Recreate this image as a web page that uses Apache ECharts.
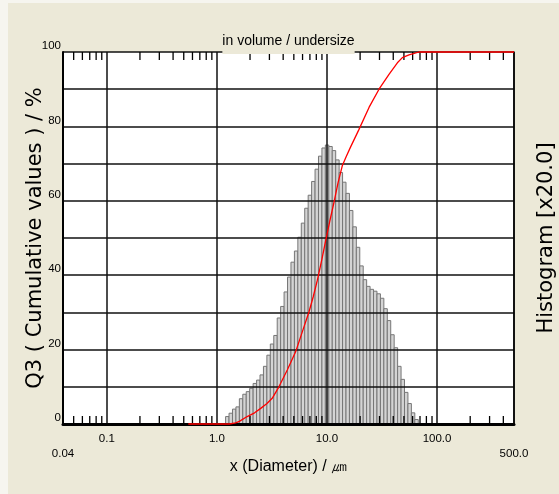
<!DOCTYPE html>
<html><head><meta charset="utf-8">
<script src="https://cdn.jsdelivr.net/npm/echarts@6/dist/echarts.min.js"></script>
<style>
html,body{margin:0;padding:0;background:#ECE9D8;}
#c{width:559px;height:494px;background:#ECE9D8;box-shadow:inset 8px 3px 0 #f6f5ef;}
</style>
</head><body><div id="c"></div>
<script>
// Histogram bin edges (µm) and bar heights (shown on the 0-100 scale, histogram x20.0)
const binEdges = [0.3058, 0.3286, 0.3531, 0.3795, 0.4078, 0.4382, 0.4709, 0.5060, 0.5438, 0.5844,
  0.6280, 0.6748, 0.7252, 0.7793, 0.8374, 0.8999, 0.9670, 1.0392, 1.1167,
  1.200, 1.2895, 1.3858, 1.4891, 1.6002, 1.7196, 1.8479, 1.9858, 2.1340, 2.2932,
  2.4642, 2.6480, 2.8457, 3.0580, 3.2861, 3.5312, 3.7948, 4.0778, 4.3820, 4.7090,
  5.0604, 5.4379, 5.8436, 6.2796, 6.7481, 7.2516, 7.7926, 8.3740, 8.9987, 9.6701,
  10.392, 11.167, 12.000, 12.895, 13.858, 14.891, 16.002, 17.196, 18.479, 19.858,
  21.340, 22.932, 24.642, 26.480, 28.457, 30.580, 32.861, 35.312, 37.948, 40.778,
  43.820, 47.090, 50.604, 54.379, 58.436, 62.796, 67.481];
const histValues = [0, 0, 0, 0, 0, 0, 0, 0, 0, 0, 0, 0, 0, 0, 0, 0, 0, 0, 0,
  2.0, 2.9, 4.0, 4.6, 6.8, 8.0, 8.7, 9.6, 10.9, 11.8,
  13.2, 15.5, 18.5, 21.5, 23.8, 28.5, 31.6, 35.5, 39.5, 43.5,
  46.5, 50.2, 54.0, 58.0, 61.5, 65.2, 68.5, 72.0, 74.2, 75.0,
  74.6, 73.5, 71.0, 67.6, 65.0, 62.0, 57.4, 53.0, 47.5, 42.5,
  38.8, 37.0, 36.2, 35.7, 35.0, 33.8, 31.0, 27.8, 24.0, 20.5,
  15.5, 12.0, 8.5, 5.5, 3.0, 1.2];

// Cumulative Q3 curve (undersize, %)
const cumX = [0.55, 1.0, 1.3, 1.48, 1.6, 1.885, 2.2, 2.5, 2.85, 3.18, 3.66, 4.36, 5.19, 6.18, 6.86,
  7.5, 8.17, 9.0, 9.73, 10.6, 11.58, 12.6, 13.77, 15.0, 16.4, 19.4, 24.1, 29.7, 36.6, 43.6,
  48.4, 55.6, 62.0, 68.6, 500];
const cumY = [0, 0, 0, 0.3, 0.7, 2.0, 3.0, 4.2, 5.5, 6.9, 10.0, 14.5, 19.4, 26.1, 30.1,
  34.2, 38.6, 44.3, 49.3, 54.5, 59.6, 64.8, 69.4, 72.0, 74.5, 79.0, 85.1, 90.0, 94.0, 97.1,
  98.5, 99.2, 99.6, 100, 100];

// Axis tick labels
const xLabelVals = [0.04, 0.1, 1, 10, 100, 500];
const xLabelTexts = ['0.04', '0.1', '1.0', '10.0', '100.0', '500.0'];
const xLabelLow = [true, false, false, false, false, true];
const yLabelVals = [0, 20, 40, 60, 80, 100];
const minorTicks = [0.05, 0.06, 0.07, 0.08, 0.09,
  0.2, 0.3, 0.4, 0.5, 0.6, 0.7, 0.8, 0.9,
  2, 3, 4, 5, 6, 7, 8, 9,
  20, 30, 40, 50, 60, 70, 80, 90,
  200, 300, 400];

const NARROW = "'Liberation Sans Narrow','Arial Narrow','Liberation Sans',Arial,sans-serif";
const WIDE = "'DejaVu Sans',Verdana,sans-serif";

const histData = histValues.map((v, i) => [binEdges[i], binEdges[i + 1], v]);
const cumData = cumX.map((x, i) => [x, cumY[i]]);
const minorData = minorTicks.map(v => [v, 0]);

function renderHist(params, api) {
  const p1 = api.coord([api.value(0), api.value(2)]);
  const p2 = api.coord([api.value(1), 0]);
  return {
    type: 'rect',
    shape: { x: p1[0], y: p1[1], width: p2[0] - p1[0], height: p2[1] - p1[1] },
    style: { fill: '#d4d4d4', stroke: '#767676', lineWidth: 1 }
  };
}
function renderMinor(params, api) {
  const b = api.coord([api.value(0), 0]);
  const t = api.coord([api.value(0), 100]);
  return {
    type: 'group',
    children: [
      { type: 'line', shape: { x1: b[0], y1: b[1], x2: b[0], y2: b[1] - 8 }, style: { stroke: '#000', lineWidth: 1.3 } },
      { type: 'line', shape: { x1: t[0], y1: t[1], x2: t[0], y2: t[1] + 8 }, style: { stroke: '#000', lineWidth: 1.3 } }
    ]
  };
}
function xFmt(v) {
  let k = 0, best = Infinity;
  xLabelVals.forEach((t, i) => { const d = Math.abs(Math.log10(t) - Math.log10(v)); if (d < best) { best = d; k = i; } });
  if (best > 0.05) return '';
  return (xLabelLow[k] ? '\n' : '') + xLabelTexts[k];
}

const chart = echarts.init(document.getElementById('c'), null, { renderer: 'canvas' });
chart.setOption({
  backgroundColor: 'transparent',
  animation: false,
  title: {
    text: 'in volume / undersize',
    left: 288.5, top: 32, textAlign: 'center',
    padding: [1, 0, 5, 0],
    backgroundColor: '#ECE9D8',
    textStyle: { fontFamily: NARROW, fontSize: 14, fontWeight: 'normal', color: '#000', lineHeight: 16 }
  },
  grid: { left: 63, right: 45, top: 52, bottom: 70, show: true, backgroundColor: '#ffffff', borderWidth: 0, outerBoundsMode: 'none', containLabel: false },
  xAxis: [
    {
      type: 'log', logBase: 10, min: 0.04, max: 500, position: 'bottom', z: 3,
      axisLine: { show: true, lineStyle: { color: '#000', width: 2 } },
      axisTick: { show: false },
      splitLine: { show: true, lineStyle: { color: '#111', width: 1.5 } },
      axisLabel: {
        showMinLabel: true, showMaxLabel: true, margin: 7,
        fontFamily: NARROW, fontSize: 11.5, color: '#000', lineHeight: 15,
        formatter: xFmt
      },
      name: 'x (Diameter) / ㎛', nameLocation: 'middle', nameGap: 35, nameMoveOverlap: false,
      nameTextStyle: { fontFamily: NARROW, fontSize: 16, color: '#000' }
    },
    {
      type: 'log', logBase: 10, min: 0.04, max: 500, position: 'top', z: 3,
      axisLine: { show: true, lineStyle: { color: '#000', width: 3 } },
      axisTick: { show: false }, axisLabel: { show: false }, splitLine: { show: false }
    }
  ],
  yAxis: [
    {
      type: 'value', min: 0, max: 100, interval: 10, position: 'left', z: 3,
      axisLine: { show: true, lineStyle: { color: '#000', width: 2 } },
      axisTick: { show: false },
      splitLine: { show: true, lineStyle: { color: '#111', width: 1.5 } },
      axisLabel: {
        formatter: v => (yLabelVals.indexOf(v) >= 0 ? String(v) : ''),
        verticalAlign: 'bottom', margin: 2,
        fontFamily: NARROW, fontSize: 11.5, color: '#000'
      },
      name: 'Q3 ( Cumulative values ) / %', nameLocation: 'middle', nameRotate: 90, nameGap: 17, nameMoveOverlap: false,
      nameTextStyle: { fontFamily: WIDE, fontSize: 21, color: '#000' }
    },
    {
      type: 'value', min: 0, max: 100, interval: 10, position: 'right', z: 3,
      axisLine: { show: true, lineStyle: { color: '#000', width: 1.5 } },
      axisTick: { show: false }, axisLabel: { show: false }, splitLine: { show: false },
      name: 'Histogram [x20.0]', nameLocation: 'middle', nameRotate: 90, nameGap: 22, nameMoveOverlap: false,
      nameTextStyle: { fontFamily: WIDE, fontSize: 21, color: '#000' }
    }
  ],
  series: [
    {
      type: 'custom', name: 'Histogram', xAxisIndex: 0, yAxisIndex: 1, z: 2,
      renderItem: renderHist, data: histData, encode: { x: [0, 1], y: 2 }
    },
    {
      type: 'custom', name: 'minor', xAxisIndex: 0, yAxisIndex: 0, z: 4, silent: true,
      renderItem: renderMinor, data: minorData, encode: { x: 0, y: 1 }
    },
    {
      type: 'line', name: 'Q3', xAxisIndex: 0, yAxisIndex: 0, z: 5,
      data: cumData, showSymbol: false, clip: false,
      lineStyle: { color: '#ff0000', width: 1.3 }
    }
  ]
});
</script>
</body></html>
